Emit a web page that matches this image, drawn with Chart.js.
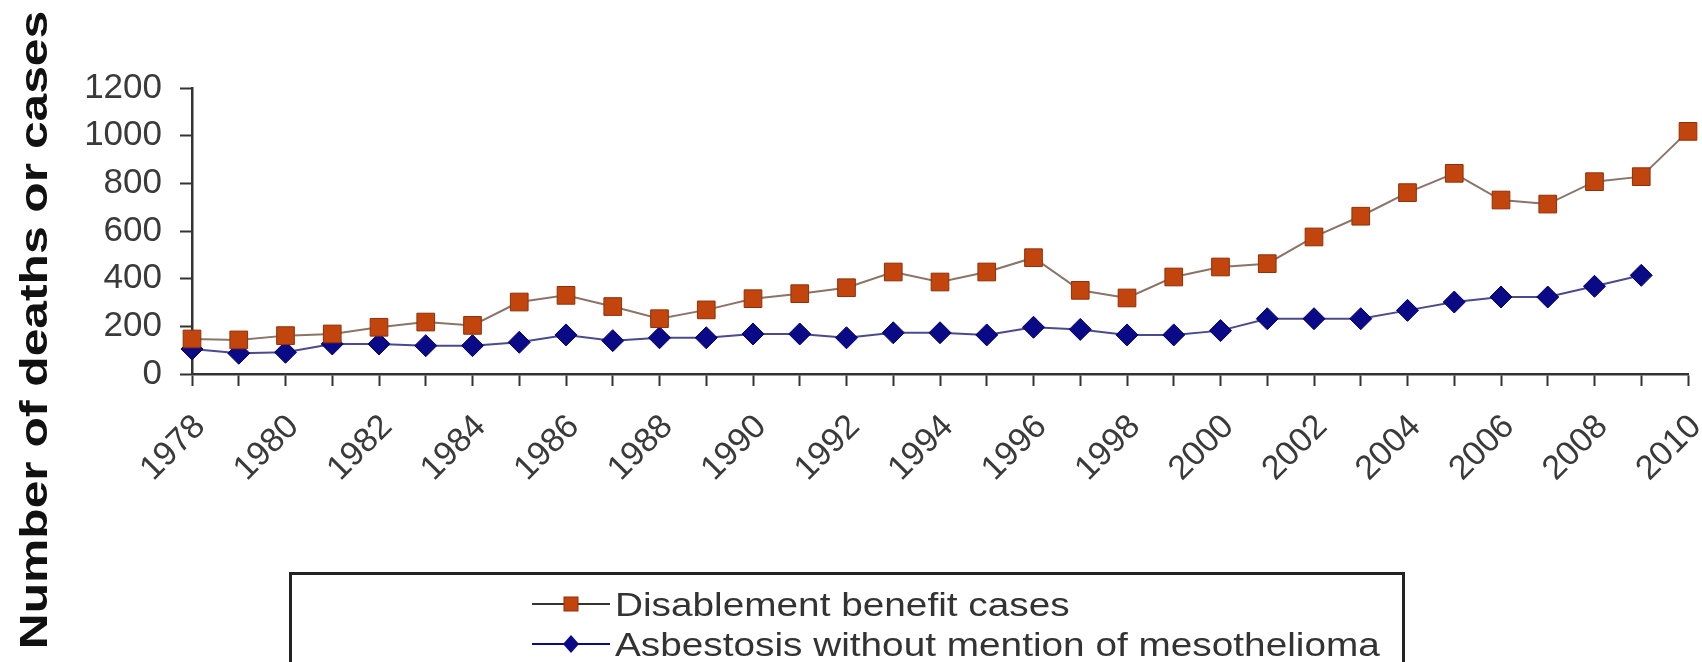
<!DOCTYPE html>
<html>
<head>
<meta charset="utf-8">
<script src="https://cdn.jsdelivr.net/npm/chart.js@4.4.1/dist/chart.umd.min.js"></script>
<style>
  html, body { margin: 0; padding: 0; background: #fff; }
  #wrap { position: relative; width: 1702px; height: 662px; overflow: hidden; }
  #chart { position: absolute; left: 0; top: 0; }
  #legend {
    position: absolute; left: 289px; top: 572px; width: 1116px; height: 200px;
    border: 3px solid #222; box-sizing: border-box;
    font-family: "Liberation Sans", Arial, sans-serif; color: #333;
  }
  .item { position: absolute; left: 240px; height: 40px; display: flex; align-items: center; }
  .item span {
    font-size: 34px; display: inline-block; white-space: nowrap;
    transform: scaleX(1.14); transform-origin: left center; margin-left: 5px;
  }
</style>
</head>
<body>
<div id="wrap">
  <canvas id="chart" width="1702" height="662"></canvas>
  <div id="legend"></div>
</div>
<script>
const years = ['1978', '1979', '1980', '1981', '1982', '1983', '1984', '1985', '1986', '1987', '1988',
  '1989', '1990', '1991', '1992', '1993', '1994', '1995', '1996', '1997', '1998', '1999',
  '2000', '2001', '2002', '2003', '2004', '2005', '2006', '2007', '2008', '2009', '2010'];

const benefitCases = [147, 143, 161, 168, 196, 218, 204, 302, 330, 283, 232,
  269, 316, 337, 362, 428, 386, 428, 488, 351, 319, 407,
  449, 463, 575, 662, 761, 842, 730, 713, 807, 828, 1018];

const asbestosisDeaths = [105, 87, 91, 126, 126, 119, 119, 133, 164, 140, 152,
  152, 168, 168, 152, 173, 173, 164, 196, 187, 164, 164,
  182, 232, 232, 232, 267, 302, 323, 323, 368, 414];

const yTicks = [0, 200, 400, 600, 800, 1000, 1200];

const FONT = '"Liberation Sans", Arial, sans-serif';
const axisColor = '#333';

// rotated y title, drawn by hand so it can sit centred on the whole picture
const yTitle = {
  id: 'yTitle',
  afterDraw(chart) {
    const ctx = chart.ctx;
    ctx.save();
    ctx.translate(47, 330);
    ctx.rotate(-Math.PI / 2);
    ctx.scale(1.275, 1);
    ctx.font = 'bold 39px ' + FONT;
    ctx.fillStyle = '#111';
    ctx.textAlign = 'center';
    ctx.textBaseline = 'alphabetic';
    ctx.fillText('Number of deaths or cases', 0, 0);
    ctx.restore();
  }
};

const chart = new Chart(document.getElementById('chart'), {
  type: 'line',
  data: {
    labels: years,
    datasets: [
      {
        label: 'Disablement benefit cases',
        data: benefitCases,
        borderColor: '#8a7468',
        borderWidth: 2,
        pointStyle: 'rect',
        pointRadius: 12.5,
        pointBackgroundColor: '#c2450e',
        pointBorderColor: '#8f3008',
        pointBorderWidth: 1,
        tension: 0,
        clip: false
      },
      {
        label: 'Asbestosis without mention of mesothelioma',
        data: asbestosisDeaths,
        borderColor: '#4a4a8c',
        borderWidth: 2,
        pointStyle: 'rectRot',
        pointRadius: 11,
        pointBackgroundColor: '#0a0a86',
        pointBorderColor: '#000070',
        pointBorderWidth: 1,
        tension: 0,
        clip: false
      }
    ]
  },
  options: {
    responsive: false,
    animation: false,
    layout: { padding: { top: 88, right: 14, left: 0, bottom: 0 } },
    plugins: {
      legend: { display: false },
      tooltip: { enabled: false }
    },
    scales: {
      x: {
        offset: false,
        afterFit(scale) {
          scale.height = 288;
          scale.paddingLeft = 0;
          scale.paddingRight = 0;
        },
        border: { display: true, color: axisColor, width: 2.5 },
        grid: {
          drawOnChartArea: false, drawTicks: true,
          tickLength: 12, tickColor: axisColor, tickWidth: 2
        },
        ticks: {
          autoSkip: false,
          minRotation: 45,
          maxRotation: 45,
          labelOffset: 8,
          padding: 21,
          color: '#3a3a3a',
          font: { family: FONT, size: 34 },
          callback(value, index) {
            return index % 2 === 0 ? this.getLabelForValue(value) : '';
          }
        }
      },
      y: {
        min: 0,
        max: 1200,
        afterFit(scale) { scale.width = 192; },
        afterBuildTicks(scale) { scale.ticks = yTicks.map(v => ({ value: v })); },
        border: { display: true, color: axisColor, width: 2.5 },
        grid: {
          drawOnChartArea: false, drawTicks: true,
          tickLength: 12, tickColor: axisColor, tickWidth: 2
        },
        ticks: {
          padding: 18,
          color: '#3a3a3a',
          font: { family: FONT, size: 35 },
          callback: value => String(value)
        }
      }
    }
  },
  plugins: [yTitle]
});

// legend in a framed box, built from the datasets
const legend = document.getElementById('legend');
const rowTops = [9, 49];
chart.data.datasets.forEach((ds, i) => {
  const item = document.createElement('div');
  item.className = 'item';
  item.style.top = rowTops[i] + 'px';
  const lineCol = i === 0 ? '#333' : '#0a0a86';
  const marker = ds.pointStyle === 'rect'
    ? '<rect x="32" y="13" width="14" height="14" fill="' + ds.pointBackgroundColor + '" stroke="' + ds.pointBorderColor + '"/>'
    : '<polygon points="39,11 47,20 39,29 31,20" fill="' + ds.pointBackgroundColor + '"/>';
  item.innerHTML = '<svg width="78" height="40"><line x1="0" y1="20" x2="78" y2="20" stroke="' + lineCol +
    '" stroke-width="2"/>' + marker + '</svg><span>' + ds.label + '</span>';
  legend.appendChild(item);
});
</script>
</body>
</html>
